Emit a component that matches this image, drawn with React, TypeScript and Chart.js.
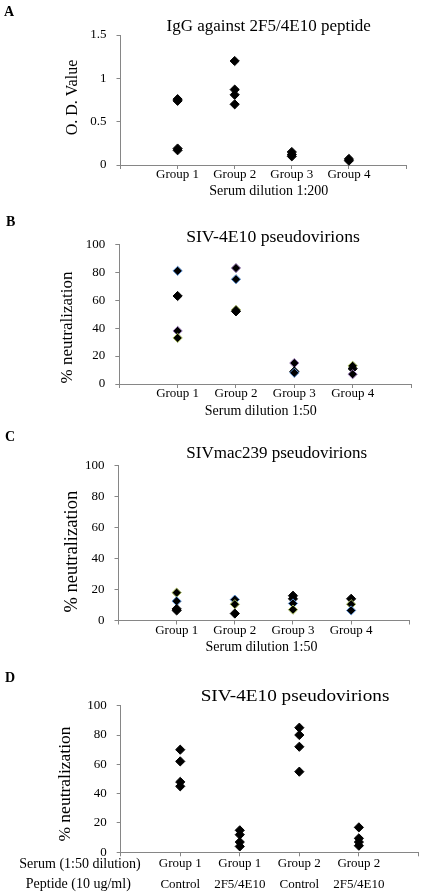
import React, { useEffect, useRef } from "react";
import { Chart, registerables } from "chart.js";

Chart.register(...registerables);

const SERIF = "'Liberation Serif', 'Times New Roman', Times, serif";
const AXIS_COLOR = "#868686";
const PAGE_W = 424;
const PAGE_H = 893;

// ---------------- Panel A: IgG against 2F5/4E10 peptide (O.D.)
const A_CATEGORIES = ["Group 1", "Group 2", "Group 3", "Group 4"];
const A_GROUP1 = [0.76, 0.74, 0.19, 0.17];
const A_GROUP2 = [1.2, 0.87, 0.81, 0.7];
const A_GROUP3 = [0.15, 0.12, 0.1];
const A_GROUP4 = [0.07, 0.05];
const A_Y_MAX = 1.5;
const A_Y_STEP = 0.5;

// ---------------- Panel B: SIV-4E10 pseudovirions (% neutralization)
const B_CATEGORIES = ["Group 1", "Group 2", "Group 3", "Group 4"];
const B_GROUP1 = [81, 63, 38, 33];
const B_GROUP2 = [83, 75, 53, 52];
const B_GROUP3 = [15, 9, 8];
const B_GROUP4 = [13, 11, 7];

// ---------------- Panel C: SIVmac239 pseudovirions (% neutralization)
const C_CATEGORIES = ["Group 1", "Group 2", "Group 3", "Group 4"];
const C_GROUP1 = [18, 12.5, 7.5, 6.5];
const C_GROUP2 = [13.5, 10.5, 4.5];
const C_GROUP3 = [16, 14, 11, 7];
const C_GROUP4 = [14, 10.5, 6.5];

// ---------------- Panel D: SIV-4E10 pseudovirions, peptide competition
const D_CATEGORIES = [
  ["Group 1", "Control"],
  ["Group 1", "2F5/4E10"],
  ["Group 2", "Control"],
  ["Group 2", "2F5/4E10"],
];
const D_ROW_LABELS = ["Serum (1:50 dilution)", "Peptide (10 ug/ml)"];
const D_G1_CONTROL = [70, 62, 48, 45];
const D_G1_PEPTIDE = [15, 12, 7, 4];
const D_G2_CONTROL = [85, 80, 72, 55];
const D_G2_PEPTIDE = [17, 9.5, 7, 4.5];

const PCT_Y_MAX = 100;
const PCT_Y_STEP = 20;

// marker edge styles (separate from data)
const K = "#000000";
const BL = "#5b8fd0";
const OL = "#a5b85a";
const PU = "#9b7bb8";
const B_EDGES = [[BL, K, PU, OL], [PU, BL, OL, K], [PU, K, BL], [OL, K, PU]];
const C_EDGES = [[OL, BL, K, K], [BL, OL, K], [K, K, BL, OL], [K, OL, BL]];

type TextItem = {
  text: string;
  x: number;
  y: number;
  size: number;
  bold?: boolean;
  rotate?: boolean;
  align?: CanvasTextAlign;
  sx?: number;
};

type PanelCfg = {
  top: number;
  height: number;
  area: { left: number; right: number; top: number; bottom: number };
  categories: (string | string[])[];
  groups: number[][];
  edges?: string[][];
  yMax: number;
  yStep: number;
  labelPad: number;
  labelLineHeight: number;
  texts: TextItem[];
};

const textPlugin = {
  id: "panelText",
  afterDraw(chart: any, _args: any, opts: any) {
    const ctx: CanvasRenderingContext2D = chart.ctx;
    const items: TextItem[] = opts.items || [];
    for (const t of items) {
      ctx.save();
      ctx.font = `${t.bold ? "bold " : ""}${t.size}px ${SERIF}`;
      ctx.fillStyle = "#000";
      ctx.textAlign = t.align || "center";
      ctx.textBaseline = t.rotate ? "middle" : "alphabetic";
      ctx.translate(t.x, t.y - opts.offsetY);
      if (t.rotate) ctx.rotate(-Math.PI / 2);
      if (t.sx) ctx.scale(t.sx, 1);
      ctx.fillText(t.text, 0, 0);
      ctx.restore();
    }
  },
};

const PANELS: PanelCfg[] = [
  {
    top: 0,
    height: 200,
    area: { left: 120.5, right: 406, top: 35, bottom: 165 },
    categories: A_CATEGORIES,
    groups: [A_GROUP1, A_GROUP2, A_GROUP3, A_GROUP4],
    yMax: A_Y_MAX,
    yStep: A_Y_STEP,
    labelPad: -2,
    labelLineHeight: 1.2,
    texts: [
      { text: "A", x: 4, y: 16, size: 14, bold: true, align: "left" },
      { text: "IgG against 2F5/4E10 peptide", x: 268.7, y: 30.5, size: 17 },
      { text: "O. D. Value", x: 72.5, y: 97.5, size: 16, rotate: true },
      { text: "Serum dilution 1:200", x: 268.8, y: 195, size: 14 },
    ],
  },
  {
    top: 200,
    height: 220,
    area: { left: 119.3, right: 411, top: 244.3, bottom: 384 },
    categories: B_CATEGORIES,
    groups: [B_GROUP1, B_GROUP2, B_GROUP3, B_GROUP4],
    edges: B_EDGES,
    yMax: PCT_Y_MAX,
    yStep: PCT_Y_STEP,
    labelPad: -2,
    labelLineHeight: 1.2,
    texts: [
      { text: "B", x: 6, y: 226, size: 14, bold: true, align: "left" },
      { text: "SIV-4E10 pseudovirions", x: 273, y: 241.5, size: 17, sx: 1.04 },
      { text: "% neutralization", x: 67.5, y: 327.5, size: 17, rotate: true },
      { text: "Serum dilution 1:50", x: 260.8, y: 415, size: 14 },
    ],
  },
  {
    top: 420,
    height: 240,
    area: { left: 118.5, right: 409.3, top: 465.7, bottom: 620.5 },
    categories: C_CATEGORIES,
    groups: [C_GROUP1, C_GROUP2, C_GROUP3, C_GROUP4],
    edges: C_EDGES,
    yMax: PCT_Y_MAX,
    yStep: PCT_Y_STEP,
    labelPad: -2,
    labelLineHeight: 1.2,
    texts: [
      { text: "C", x: 5, y: 440.7, size: 14, bold: true, align: "left" },
      { text: "SIVmac239 pseudovirions", x: 276.7, y: 458.3, size: 17 },
      { text: "% neutralization", x: 71.7, y: 551.7, size: 18.5, rotate: true },
      { text: "Serum dilution 1:50", x: 261.5, y: 650.7, size: 14 },
    ],
  },
  {
    top: 660,
    height: 233,
    area: { left: 120.7, right: 420.7, top: 705.7, bottom: 852.3 },
    categories: D_CATEGORIES,
    groups: [D_G1_CONTROL, D_G1_PEPTIDE, D_G2_CONTROL, D_G2_PEPTIDE],
    yMax: PCT_Y_MAX,
    yStep: PCT_Y_STEP,
    labelPad: -3,
    labelLineHeight: 1.6,
    texts: [
      { text: "D", x: 5, y: 681.7, size: 14, bold: true, align: "left" },
      { text: "SIV-4E10 pseudovirions", x: 295, y: 701, size: 17, sx: 1.13 },
      { text: "% neutralization", x: 65, y: 784, size: 17.5, rotate: true },
      { text: D_ROW_LABELS[0], x: 80, y: 867.7, size: 14 },
      { text: D_ROW_LABELS[1], x: 78.3, y: 888.3, size: 14 },
    ],
  },
];

function Panel({ cfg }: { cfg: PanelCfg }) {
  const ref = useRef<HTMLCanvasElement>(null);
  useEffect(() => {
    const canvas = ref.current;
    if (!canvas) return;
    const { top, height, area } = cfg;
    const points = cfg.groups.flatMap((g, i) => g.map((v) => ({ x: i + 1, y: v })));
    const edges = cfg.edges
      ? cfg.groups.flatMap((g, i) => g.map((_, j) => (cfg.edges as string[][])[i][j] || K))
      : K;
    const chart = new Chart(canvas, {
      type: "scatter",
      data: {
        datasets: [
          {
            data: points,
            pointStyle: "rectRot",
            pointRadius: 4.6,
            pointHoverRadius: 4.6,
            backgroundColor: "#000",
            borderColor: edges as any,
            borderWidth: 1,
            showLine: false,
            clip: false as any,
          },
        ],
      },
      plugins: [textPlugin],
      options: {
        animation: false,
        responsive: false,
        maintainAspectRatio: false,
        events: [],
        layout: {
          padding: { left: 0, top: area.top - top, right: PAGE_W - area.right, bottom: 0 },
        },
        plugins: {
          legend: { display: false },
          tooltip: { enabled: false },
          title: { display: false },
          panelText: { items: cfg.texts, offsetY: top },
        } as any,
        scales: {
          x: {
            type: "linear",
            position: "bottom",
            min: 0,
            max: 5,
            afterFit: (s: any) => {
              s.height = top + height - area.bottom;
            },
            grid: {
              display: true,
              drawOnChartArea: false,
              drawTicks: true,
              tickLength: 4,
              color: AXIS_COLOR,
              lineWidth: 1,
            },
            border: { display: true, color: AXIS_COLOR, width: 1 },
            ticks: {
              stepSize: 1,
              autoSkip: false,
              maxRotation: 0,
              minRotation: 0,
              padding: cfg.labelPad,
              color: "#000",
              font: { family: SERIF, size: 13, lineHeight: cfg.labelLineHeight },
              callback: (v: any) => {
                const i = Math.round(Number(v)) - 1;
                return i >= 0 && i < cfg.categories.length ? (cfg.categories[i] as any) : "";
              },
            },
          },
          y: {
            type: "linear",
            min: 0,
            max: cfg.yMax,
            afterFit: (s: any) => {
              s.width = area.left;
            },
            grid: {
              display: true,
              drawOnChartArea: false,
              drawTicks: true,
              tickLength: 4,
              color: AXIS_COLOR,
              lineWidth: 1,
            },
            border: { display: true, color: AXIS_COLOR, width: 1 },
            ticks: {
              stepSize: cfg.yStep,
              padding: 10,
              color: "#000",
              font: { family: SERIF, size: 13 },
              callback: (v: any) => String(Math.round(Number(v) * 100) / 100),
            },
          },
        },
      } as any,
    });
    return () => chart.destroy();
  }, [cfg]);
  return (
    <canvas
      ref={ref}
      width={PAGE_W}
      height={cfg.height}
      style={{
        position: "absolute",
        left: 0,
        top: cfg.top,
        width: PAGE_W,
        height: cfg.height,
        display: "block",
      }}
    />
  );
}

export default function App() {
  return (
    <div
      style={{
        position: "absolute",
        left: 0,
        top: 0,
        width: PAGE_W,
        height: PAGE_H,
        background: "#fff",
        overflow: "hidden",
      }}
    >
      {PANELS.map((p, i) => (
        <Panel key={i} cfg={p} />
      ))}
    </div>
  );
}
